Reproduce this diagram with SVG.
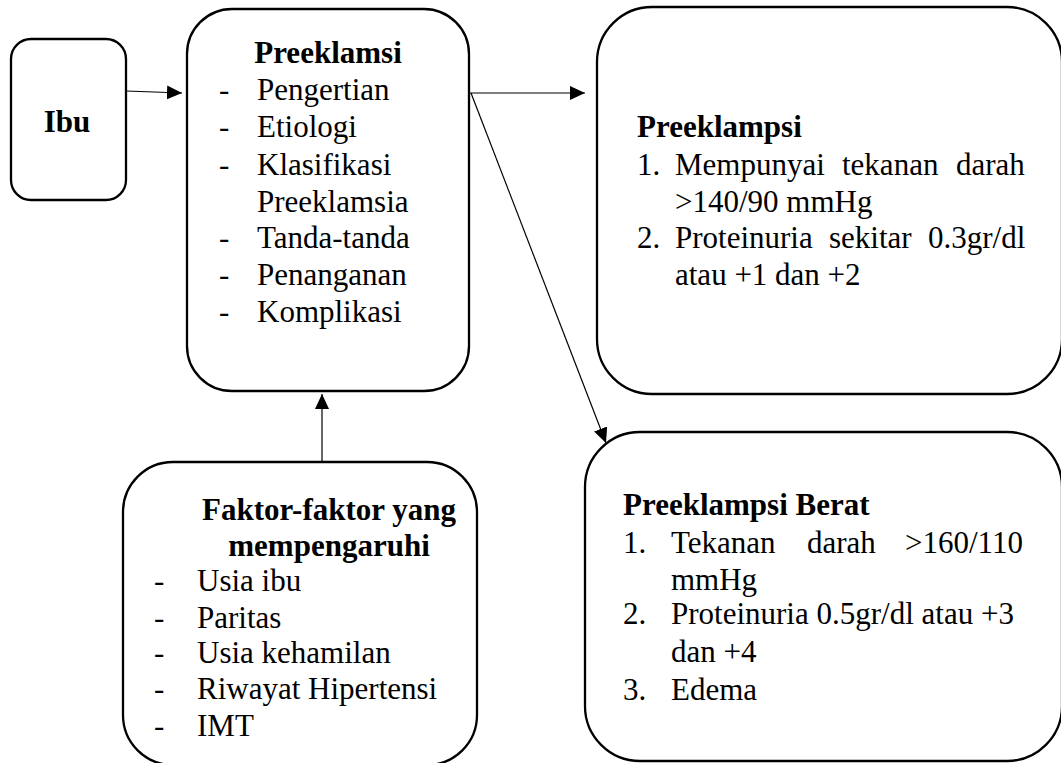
<svg xmlns="http://www.w3.org/2000/svg" width="1061" height="763" viewBox="0 0 1061 763">
<style>
.box{fill:#fff;stroke:#000;stroke-width:2.3}
.t{font-family:"Liberation Serif","Times New Roman",serif;font-size:31px;fill:#000}
.b{font-weight:bold}
.c{text-anchor:middle}
.con{stroke:#000;stroke-width:1.2;fill:none;marker-end:url(#ah)}
</style>
<defs>
<marker id="ah" markerUnits="userSpaceOnUse" markerWidth="16" markerHeight="15" refX="15" refY="7" orient="auto">
<path d="M0,0 L15,7 L0,14 z" fill="#000"/>
</marker>
</defs>
<rect width="1061" height="763" fill="#fff"/>
<g id="ibu">
<rect class="box" x="11" y="39" width="115" height="161" rx="20"/>
<text class="t b c" x="67" y="132">Ibu</text>
</g>
<g id="preeklamsi">
<rect class="box" x="187" y="9" width="282" height="382" rx="45"/>
<text class="t b c" x="328" y="63">Preeklamsi</text>
<text class="t"><tspan x="219" y="100">-</tspan><tspan x="257" y="100">Pengertian</tspan>
<tspan x="219" y="137">-</tspan><tspan x="257" y="137">Etiologi</tspan>
<tspan x="219" y="175">-</tspan><tspan x="257" y="175">Klasifikasi</tspan>
<tspan x="257" y="212">Preeklamsia</tspan>
<tspan x="219" y="248">-</tspan><tspan x="257" y="248">Tanda-tanda</tspan>
<tspan x="219" y="285">-</tspan><tspan x="257" y="285">Penanganan</tspan>
<tspan x="219" y="322">-</tspan><tspan x="257" y="322">Komplikasi</tspan></text>
</g>
<g id="preeklampsi">
<rect class="box" x="597" y="7" width="465" height="387" rx="55"/>
<text class="t b" x="637" y="137">Preeklampsi</text>
<text class="t"><tspan x="637" y="175">1.</tspan><tspan x="675" y="175">Mempunyai</tspan><tspan x="842" y="175">tekanan</tspan><tspan x="956" y="175">darah</tspan>
<tspan x="675" y="212">&gt;140/90 mmHg</tspan>
<tspan x="637" y="248">2.</tspan><tspan x="675" y="248">Proteinuria</tspan><tspan x="829" y="248">sekitar</tspan><tspan x="928" y="248">0.3gr/dl</tspan>
<tspan x="675" y="285">atau +1 dan +2</tspan></text>
</g>
<g id="preeklampsi-berat">
<rect class="box" x="585" y="432" width="477" height="329" rx="55"/>
<text class="t b" x="623" y="515">Preeklampsi Berat</text>
<text class="t"><tspan x="623" y="553">1.</tspan><tspan x="671" y="553">Tekanan</tspan><tspan x="807" y="553">darah</tspan><tspan x="905" y="553">&gt;160/110</tspan>
<tspan x="671" y="590">mmHg</tspan>
<tspan x="623" y="624">2.</tspan><tspan x="671" y="624">Proteinuria 0.5gr/dl atau +3</tspan>
<tspan x="671" y="662">dan +4</tspan>
<tspan x="623" y="700">3.</tspan><tspan x="671" y="700">Edema</tspan></text>
</g>
<g id="faktor">
<rect class="box" x="123" y="462" width="354" height="303" rx="50"/>
<text class="t b c" x="329" y="520">Faktor-faktor yang</text>
<text class="t b c" x="329" y="556">mempengaruhi</text>
<text class="t"><tspan x="154" y="591">-</tspan><tspan x="197" y="591">Usia ibu</tspan>
<tspan x="154" y="628">-</tspan><tspan x="197" y="628">Paritas</tspan>
<tspan x="154" y="663">-</tspan><tspan x="197" y="663">Usia kehamilan</tspan>
<tspan x="154" y="699">-</tspan><tspan x="197" y="699">Riwayat Hipertensi</tspan>
<tspan x="154" y="736">-</tspan><tspan x="197" y="736">IMT</tspan></text>
</g>
<g id="connectors">
<line class="con" x1="126" y1="91" x2="182" y2="93"/>
<line class="con" x1="470" y1="93" x2="585" y2="93"/>
<line class="con" x1="471" y1="93" x2="606" y2="443"/>
<line class="con" x1="322" y1="462" x2="322" y2="394"/>
</g>
</svg>
